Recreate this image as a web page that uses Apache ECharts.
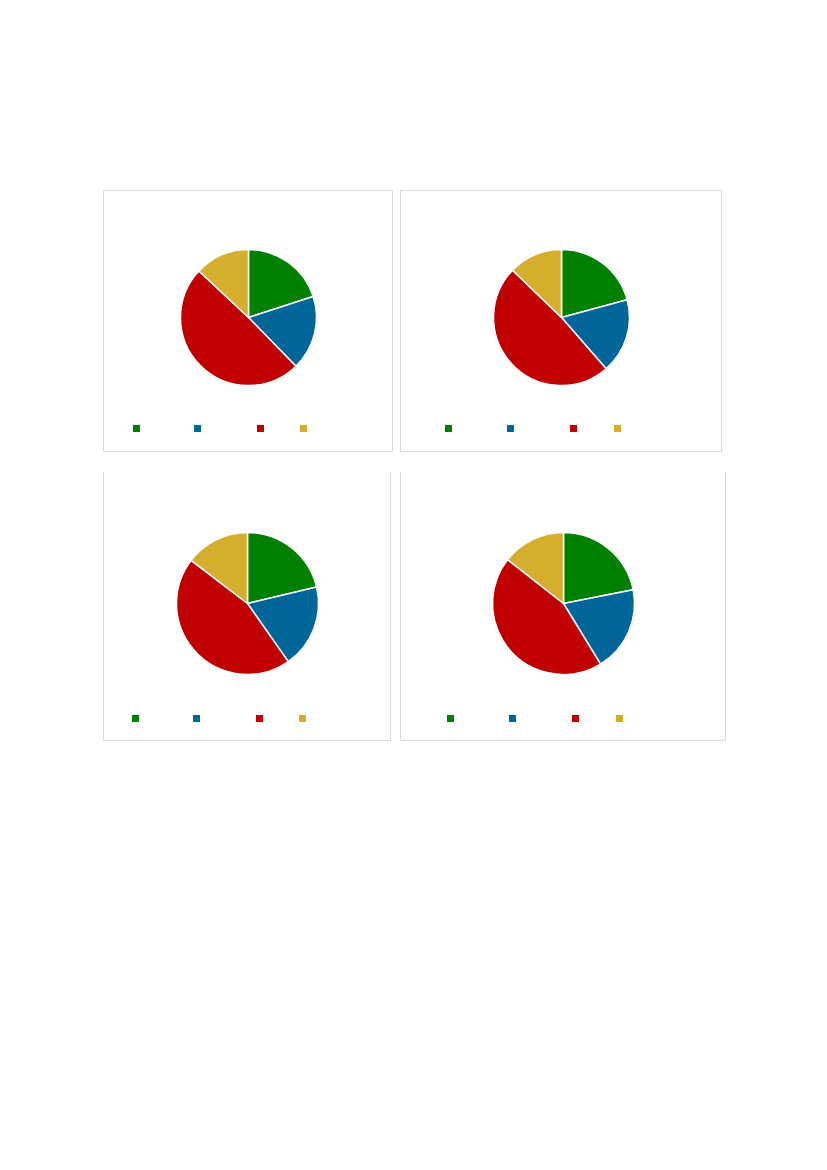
<!DOCTYPE html>
<html>
<head>
<meta charset="utf-8">
<script src="https://cdn.jsdelivr.net/npm/echarts@6/dist/echarts.min.js"></script>
<style>
  html, body { margin: 0; padding: 0; background: #fff; }
  body { width: 827px; height: 1170px; position: relative; }
  .box { position: absolute; box-sizing: border-box; border: 1px solid #d9d9d9; }
  .box.open-top { border-top: none; }
  .box > div { width: 100%; height: 100%; }
</style>
</head>
<body>
<div class="box" style="left:103px;top:190px;width:290px;height:262px"><div id="c1"></div></div>
<div class="box" style="left:400px;top:190px;width:322px;height:262px"><div id="c2"></div></div>
<div class="box open-top" style="left:103px;top:472px;width:288px;height:269px"><div id="c3"></div></div>
<div class="box open-top" style="left:400px;top:472px;width:326px;height:269px"><div id="c4"></div></div>
<script>
// categories (legend text is not visible in the picture)
var categories = ['Cat 1', 'Cat 2', 'Cat 3', 'Cat 4'];
var colors = ['#008000', '#006699', '#c00000', '#d6ae2e'];

// shares in percent
var values1 = [20.0, 17.7, 49.3, 13.0];
var values2 = [20.8, 17.8, 48.6, 12.8];
var values3 = [21.3, 19.0, 45.2, 14.6];
var values4 = [21.9, 19.4, 44.4, 14.4];

// layout of each panel: pie centre / radius and legend square offsets
var panels = [
    { id: 'c1', values: values1, center: [144.5, 126.5], radius: 68, legendLeft: [29, 90, 153, 196], legendTop: 234 },
    { id: 'c2', values: values2, center: [160.5, 126.5], radius: 68, legendLeft: [44, 106, 169, 213], legendTop: 234 },
    { id: 'c3', values: values3, center: [143.5, 131.5], radius: 71, legendLeft: [28, 89, 152, 195], legendTop: 243 },
    { id: 'c4', values: values4, center: [162.5, 131.5], radius: 71, legendLeft: [46, 108, 171, 215], legendTop: 243 }
];

panels.forEach(function (p) {
    var chart = echarts.init(document.getElementById(p.id), null, { renderer: 'canvas' });

    // one legend per category so each square sits where it does in the picture
    var legends = categories.map(function (name, i) {
        return {
            data: [name],
            left: p.legendLeft[i],
            top: p.legendTop,
            padding: 0,
            itemWidth: 7,
            itemHeight: 7,
            icon: 'rect',
            itemStyle: { borderWidth: 0 },
            selectedMode: false,
            formatter: function () { return ''; }
        };
    });

    chart.setOption({
        animation: false,
        color: colors,
        legend: legends,
        series: [{
            type: 'pie',
            center: p.center,
            radius: p.radius,
            startAngle: 90,
            clockwise: true,
            label: { show: false },
            labelLine: { show: false },
            emphasis: { disabled: true },
            itemStyle: { borderColor: '#fff', borderWidth: 1.5 },
            data: categories.map(function (name, i) {
                return { name: name, value: p.values[i] };
            })
        }]
    });
});
</script>
</body>
</html>
